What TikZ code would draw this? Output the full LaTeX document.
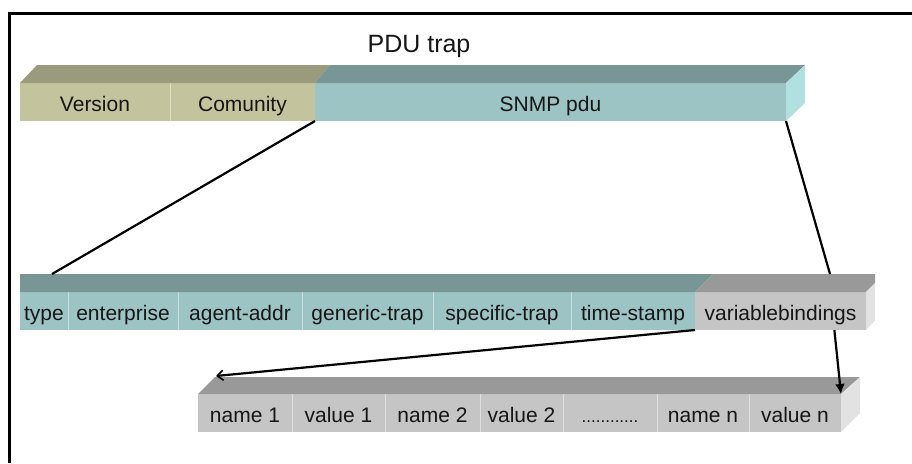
\documentclass[tikz,border=0pt]{standalone}
\usepackage{fontspec}
\setmainfont{Liberation Sans}
\usetikzlibrary{arrows.meta,calc}

\definecolor{olivefront}{RGB}{195,195,157}
\definecolor{olivetop}{RGB}{154,154,124}
\definecolor{tealfront}{RGB}{157,196,196}
\definecolor{tealtop}{RGB}{120,150,150}
\definecolor{tealside}{RGB}{176,224,224}
\definecolor{greyfront}{RGB}{197,197,197}
\definecolor{greytop}{RGB}{153,153,153}
\definecolor{greyside}{RGB}{226,226,226}
\definecolor{inktext}{RGB}{22,22,22}

\begin{document}
\begin{tikzpicture}[x=1pt,y=-1pt,
  field/.style={anchor=north west, minimum height=38pt, inner sep=0pt,
    outer sep=0pt, text=inktext, text height=19pt, text depth=1pt,
    font=\fontsize{21}{25}\selectfont},
  divider/.style={draw=white, draw opacity=0.45, line width=1pt},
  conn/.style={draw=black, line width=2.2pt},
  title/.style={font=\fontsize{25}{30}\selectfont, text=inktext, anchor=base, inner sep=0pt}
]
\useasboundingbox (0,0) rectangle (912,463);
\fill[white] (0,0) rectangle (912,463);

% frame
\draw[line width=2.6pt] (9.5,463) -- (9.5,13.7) -- (912,13.7);

% title
\node[title] (pdu) at (419,52) {PDU trap};

% ---- trap message: version / community / snmp pdu
\node[field, fill=olivefront, minimum width=150pt] (version) at (20,83) {Version};
\node[field, fill=olivefront, minimum width=145pt] (comunity) at (version.north east) {Comunity};
\node[field, fill=tealfront, minimum width=471pt] (snmp) at (comunity.north east) {SNMP pdu};
\fill[olivetop] (version.north west) -- ++(17,-18) -- (330,65) -- (comunity.north east) -- cycle;
\fill[tealtop] (comunity.north east) -- (330,65) -- (805,65) -- (snmp.north east) -- cycle;
\fill[tealside] (snmp.north east) -- ++(19,-18) -- ++(0,38) -- (snmp.south east) -- cycle;
\draw[divider] (comunity.north west) -- (comunity.south west);

% ---- snmp pdu: trap fields
\begin{scope}
\clip (20,260) rectangle (875,340);
\node[field, fill=tealfront, minimum width=48pt] (type) at (20,292) {type};
\node[field, fill=tealfront, minimum width=110pt] (enterprise) at (type.north east) {enterprise};
\node[field, fill=tealfront, minimum width=124pt] (agent) at (enterprise.north east) {agent-addr};
\node[field, fill=tealfront, minimum width=131pt] (generic) at (agent.north east) {generic-trap};
\node[field, fill=tealfront, minimum width=138pt] (specific) at (generic.north east) {specific-trap};
\node[field, fill=tealfront, minimum width=124pt] (stamp) at (specific.north east) {time-stamp};
\node[field, fill=greyfront, minimum width=171pt] (vb) at (stamp.north east) {variablebindings};
\fill[tealtop] (type.north west) -- (2,274) -- (713,274) -- (vb.north west) -- cycle;
\fill[greytop] (vb.north west) -- (713,274) -- (884,274) -- (vb.north east) -- cycle;
\fill[greyside] (vb.north east) -- ++(18,-18) -- ++(0,37) -- (vb.south east) -- cycle;
\foreach \n in {enterprise,agent,generic,specific,stamp}
  \draw[divider] (\n.north west) -- (\n.south west);
\end{scope}

% ---- variable bindings: name/value pairs
\node[field, fill=greyfront, minimum width=94pt] (name1) at (198,394) {name 1};
\node[field, fill=greyfront, minimum width=93pt] (value1) at (name1.north east) {value 1};
\node[field, fill=greyfront, minimum width=95pt] (name2) at (value1.north east) {name 2};
\node[field, fill=greyfront, minimum width=83pt] (value2) at (name2.north east) {value 2};
\node[field, fill=greyfront, minimum width=94pt] (dots) at (value2.north east) {{\fontsize{17}{20}\selectfont ............}};
\node[field, fill=greyfront, minimum width=92pt] (namen) at (dots.north east) {name n};
\node[field, fill=greyfront, minimum width=92pt] (valuen) at (namen.north east) {value n};
\fill[greytop] (name1.north west) -- ++(17,-17) -- (860,377) -- (valuen.north east) -- cycle;
\fill[greyside] (valuen.north east) -- ++(19,-17) -- ++(0,36) -- (valuen.south east) -- cycle;
\foreach \n in {value1,name2,value2,dots,namen,valuen}
  \draw[divider] (\n.north west) -- (\n.south west);

% ---- connectors
\coordinate (trapsL) at (52,274);
\coordinate (trapsR) at (830,274);
\coordinate (bindBack) at ($(name1.north west)+(18,-18)$);
\coordinate (vbOut) at ($(vb.south west)!0.815!(vb.south east)$);

\draw[conn] (snmp.south west) -- (trapsL);
\draw[conn] (snmp.south east) -- (trapsR);
\draw[conn, -{Straight Barb[length=6pt,width=10pt,line width=1.6pt]}] (vb.south west) -- (bindBack);
\draw[conn, -{Latex[length=10pt,width=10pt]}] (vbOut) -- (valuen.north east);
\end{tikzpicture}
\end{document}
